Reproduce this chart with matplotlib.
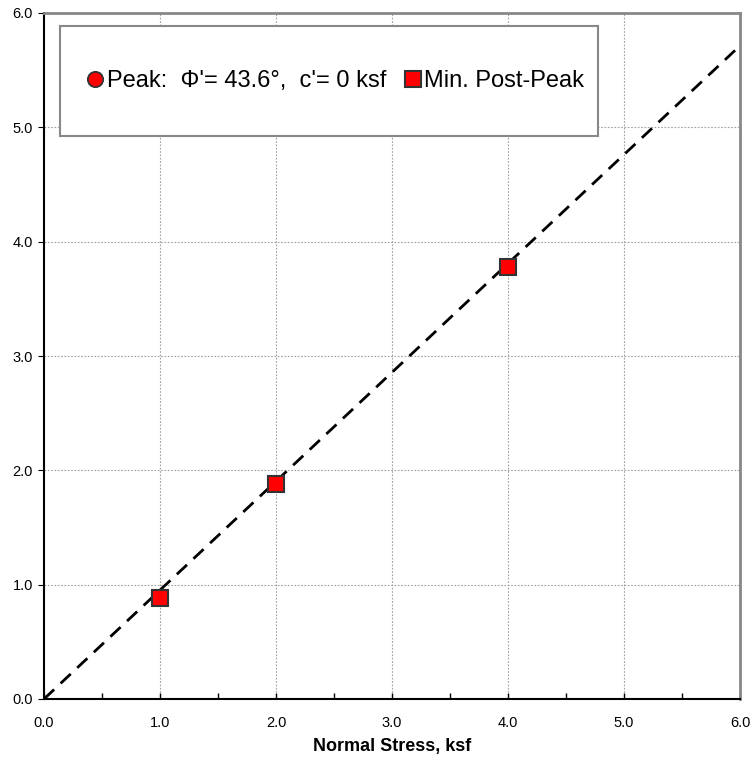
import matplotlib
matplotlib.use("Agg")
import matplotlib.pyplot as plt
from matplotlib.patches import Rectangle
import numpy as np

plt.rcParams['font.family'] = ['Liberation Sans', 'DejaVu Sans']

# Direct shear test results (ksf)
normal_stress = [1.0, 2.0, 4.0]
peak_shear = [0.88, 1.88, 3.78]
post_peak_shear = [0.88, 1.88, 3.78]
phi_deg = 43.6
cohesion = 0.0
tick_vals = [0.0, 1.0, 2.0, 3.0, 4.0, 5.0, 6.0]

fig = plt.figure(figsize=(7.52, 7.61), dpi=100)
ax = fig.add_axes([44/752, 62/761, 696/752, 686/761])

# Failure envelope
xs = np.array([0.0, 6.0])
ax.plot(xs, cohesion + xs*np.tan(np.radians(phi_deg)), color='black',
        lw=2.0, ls=(0, (5, 3.2)), zorder=3)

ax.plot(normal_stress, peak_shear, ls='none', marker='o', ms=11,
        mfc='#ff0000', mec='#333333', mew=1.3, zorder=4,
        label="Peak:  \u03a6'= 43.6\u00b0,  c'= 0 ksf")
ax.plot(normal_stress, post_peak_shear, ls='none', marker='s', ms=11,
        mfc='#ff0000', mec='#333333', mew=1.5, zorder=5,
        label="Min. Post-Peak")

ax.set_xlim(0, 6)
ax.set_ylim(0, 6)
ax.set_xticks(tick_vals)
ax.set_yticks(tick_vals)
ax.set_xticklabels([f"{v:.1f}" for v in tick_vals])
ax.set_yticklabels([f"{v:.1f}" for v in tick_vals])
ax.set_xticks(np.arange(0.5, 6, 1.0), minor=True)
ax.tick_params(axis='x', which='both', direction='in', length=4, width=1,
               pad=12, labelsize=10.5)
ax.tick_params(axis='y', which='major', direction='out', length=4, pad=4,
               labelsize=10.5)
ax.grid(True, which='major', color='#a0a0a0', ls=(0, (1.5, 1.5)), lw=0.8)

for s in ['left', 'bottom']:
    ax.spines[s].set_color('black')
    ax.spines[s].set_linewidth(1.5)
for s in ['top', 'right']:
    ax.spines[s].set_color('#888888')
    ax.spines[s].set_linewidth(2.0)

ax.set_xlabel("Normal Stress, ksf", fontsize=13, fontweight='bold', labelpad=6)

# Legend panel
x0, x1 = (60-44)/696, (598-44)/696
y0, y1 = (699-136)/686, (699-26)/686
ax.add_patch(Rectangle((x0, y0), x1-x0, y1-y0, transform=ax.transAxes,
                       facecolor='white', edgecolor='#888888', lw=1.5, zorder=6))
leg = ax.legend(loc='center', bbox_to_anchor=((x0+x1)/2 + 0.008, (y0+y1)/2),
                bbox_transform=ax.transAxes, ncol=2, frameon=False,
                fontsize=17, handletextpad=0.05, columnspacing=0.7,
                handlelength=0.85)
leg.set_zorder(7)

fig.savefig("out.png", dpi=100)
